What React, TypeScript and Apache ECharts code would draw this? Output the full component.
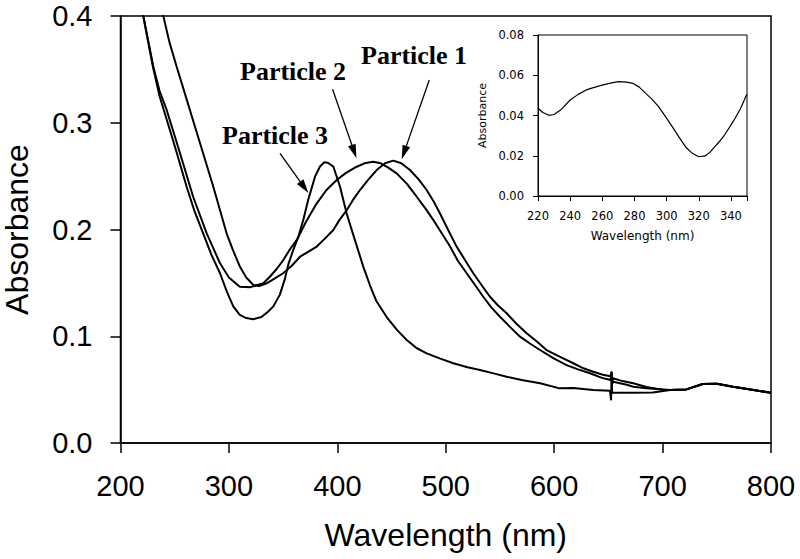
import React, { useEffect, useRef } from 'react';
import * as echarts from 'echarts';

// Main spectra: [wavelength (nm), absorbance]
const particle1: [number, number][] = [
  [232, 0.44], [239.5, 0.4], [245, 0.376], [251.8, 0.3525], [258, 0.332], [264, 0.312],
  [273.3, 0.281], [285.6, 0.24], [298, 0.196], [304, 0.18], [310.2, 0.165], [316, 0.155],
  [322.5, 0.148], [328, 0.147], [334.8, 0.1496], [342, 0.154], [350, 0.159], [358, 0.166],
  [365.6, 0.1745], [373, 0.179], [381, 0.184], [388, 0.191], [396.3, 0.1995], [402, 0.209],
  [408.6, 0.218], [414, 0.227], [420.9, 0.237], [428, 0.246], [436.3, 0.2557], [444, 0.262],
  [451.6, 0.2645], [459, 0.262], [467, 0.2557], [475, 0.247], [482.4, 0.237], [489, 0.226],
  [494.7, 0.215], [502, 0.2], [510, 0.184], [518, 0.171], [525.4, 0.159], [533, 0.148],
  [540.8, 0.137], [548, 0.129], [556.2, 0.1215], [565, 0.112], [574.6, 0.1028], [584, 0.095],
  [593, 0.0871], [605, 0.081], [617.6, 0.0747], [627, 0.07], [636, 0.0668], [645, 0.064],
  [652, 0.0625], [653, 0.067], [653.3, 0.057], [654.5, 0.0606], [663, 0.058], [673, 0.0559],
  [685, 0.0525], [700, 0.05], [707, 0.0496], [722, 0.0502], [737, 0.0553], [750, 0.0556],
  [765, 0.0527], [784, 0.0496], [800, 0.047],
];

const particle2: [number, number][] = [
  [214, 0.44], [221, 0.4], [230.3, 0.3525], [236, 0.33], [242.6, 0.312], [254.9, 0.2714],
  [267, 0.2307], [279.5, 0.1964], [291.8, 0.1683], [300, 0.155], [310, 0.1464], [320, 0.146],
  [331.7, 0.1496], [338, 0.156], [344, 0.163], [350.2, 0.1714], [356, 0.181], [362.5, 0.19],
  [371, 0.207], [381, 0.2245], [390, 0.237], [399.4, 0.2464], [408, 0.253], [417.9, 0.2588],
  [425, 0.262], [433, 0.2635], [440, 0.262], [447, 0.258], [454.7, 0.2526], [464, 0.243],
  [473.2, 0.2307], [481, 0.22], [488.5, 0.209], [496, 0.197], [504, 0.184], [511, 0.171],
  [519.3, 0.159], [527, 0.148], [534.6, 0.137], [542, 0.127], [550, 0.1183], [559, 0.109],
  [568.5, 0.0996], [578, 0.093], [587, 0.0871], [600, 0.079], [611.5, 0.073], [622, 0.069],
  [633, 0.0653], [644, 0.061], [652, 0.059], [653, 0.066], [653.3, 0.055], [654.5, 0.0574],
  [667, 0.0545], [673, 0.0527], [685, 0.0512], [707, 0.0496], [722, 0.0502], [737, 0.0553],
  [750, 0.0556], [765, 0.0527], [784, 0.0496], [800, 0.047],
];

const particle3: [number, number][] = [
  [214, 0.44], [221, 0.4], [230, 0.352], [236, 0.325], [242.6, 0.303], [251, 0.275],
  [261, 0.24], [268, 0.218], [276.4, 0.196], [284, 0.176], [291.8, 0.159], [298, 0.142],
  [304, 0.128], [310, 0.12], [316, 0.117], [322.5, 0.116], [330, 0.118], [336, 0.123],
  [341, 0.128], [347, 0.139], [351.7, 0.154], [355, 0.168], [359.4, 0.181], [364, 0.193],
  [368.6, 0.209], [373.2, 0.228], [379.4, 0.2495], [384, 0.259], [388, 0.263], [391, 0.2626],
  [396.3, 0.259], [402.5, 0.24], [408.6, 0.215], [414.7, 0.195], [424, 0.165], [430, 0.148],
  [436, 0.133], [445.5, 0.118], [455, 0.106], [464, 0.0965], [473, 0.089], [482.4, 0.084],
  [495, 0.079], [507, 0.0747], [520, 0.071], [531.6, 0.0684], [545, 0.065], [556.2, 0.0621],
  [570, 0.059], [587, 0.0559], [605, 0.0512], [617.6, 0.0515], [636, 0.0496], [651.5, 0.049],
  [652.5, 0.04], [653, 0.064], [653.5, 0.047], [670, 0.0471], [691, 0.0472], [707, 0.0496],
  [722, 0.0502], [737, 0.0553], [750, 0.0556], [765, 0.0527], [784, 0.0496], [800, 0.047],
];

// Inset spectrum
const insetSpectrum: [number, number][] = [
  [220, 0.0436], [223, 0.0415], [226.8, 0.0401], [230, 0.0405], [234, 0.0427], [240, 0.0477],
  [245, 0.0505], [250, 0.0527], [255, 0.054], [260.5, 0.0552], [265, 0.0561], [270, 0.0568],
  [275, 0.0566], [279, 0.056], [283, 0.0541], [287, 0.051], [291, 0.048], [295, 0.0444],
  [299, 0.0398], [303.5, 0.0345], [307.5, 0.0295], [311.7, 0.0245], [316, 0.0212],
  [320, 0.0195], [324, 0.0199], [327, 0.0218], [330, 0.0245], [333, 0.0272], [336, 0.0303],
  [339, 0.034], [342, 0.0378], [346, 0.0435], [349, 0.049], [350, 0.0505],
];

// Annotation labels and arrows in data coordinates
const labelNames = ['Particle 1', 'Particle 2', 'Particle 3'];
const labelPixelPos: [number, number][] = [[361, 42], [240, 58], [222, 122]];
const arrowStarts: [number, number][] = [[484.8, 0.34], [395.6, 0.3313], [347.1, 0.2714]];
const arrowEnds: [number, number][] = [[461.5, 0.272], [415.5, 0.273], [369.5, 0.2395]];

const mainXTicks = { min: 200, max: 800, interval: 100 };
const mainYTicks = { min: 0, max: 0.4, interval: 0.1 };
const insetXTicks = { min: 220, max: 350, interval: 20 };
const insetYTicks = { min: 0, max: 0.08, interval: 0.02 };

const App: React.FC = () => {
  const ref = useRef<HTMLDivElement>(null);

  useEffect(() => {
    if (!ref.current) return;
    const chart = echarts.init(ref.current, undefined, { renderer: 'svg' });
    const black = '#000';
    const mainFont = 'Liberation Sans, Arial, sans-serif';
    const insetFont = 'DejaVu Sans, Verdana, sans-serif';

    const lineSeries = (name: string, data: [number, number][], idx: number, extra: any = {}) => ({
      name,
      type: 'line',
      xAxisIndex: idx,
      yAxisIndex: idx,
      data,
      showSymbol: false,
      symbol: 'none',
      clip: true,
      lineStyle: { color: black, width: idx === 0 ? 2 : 1.2 },
      silent: true,
      ...extra,
    });

    const option: any = {
      animation: false,
      backgroundColor: '#fff',
      textStyle: { fontFamily: mainFont },
      grid: [
        { left: 120.5, right: 29, top: 16, bottom: 116, show: true, borderColor: black, borderWidth: 1.5, backgroundColor: 'transparent', containLabel: false, outerBoundsMode: 'none' },
        { left: 538, right: 53, top: 35, bottom: 363, show: true, borderColor: black, borderWidth: 1, backgroundColor: 'transparent', containLabel: false, outerBoundsMode: 'none' },
      ],
      xAxis: [
        {
          type: 'value', gridIndex: 0, ...mainXTicks,
          axisLine: { show: true, onZero: false, lineStyle: { color: black, width: 1.5 } },
          axisTick: { show: true, length: 10, lineStyle: { color: black, width: 1.5 } },
          axisLabel: { color: black, fontSize: 29, margin: 28, fontFamily: mainFont },
          splitLine: { show: false },
          name: 'Wavelength (nm)', nameLocation: 'middle', nameGap: 76,
          nameTextStyle: { color: black, fontSize: 32, fontFamily: mainFont },
        },
        {
          type: 'value', gridIndex: 1, ...insetXTicks,
          axisLine: { show: true, onZero: false, lineStyle: { color: black, width: 1 } },
          axisTick: { show: true, length: 5, lineStyle: { color: black, width: 1 } },
          axisLabel: {
            color: black, fontSize: 11.5, margin: 14, fontFamily: insetFont,
            formatter: (v: number) => (v >= 350 ? '' : String(v)),
          },
          splitLine: { show: false },
          name: 'Wavelength (nm)', nameLocation: 'middle', nameGap: 34,
          nameTextStyle: { color: black, fontSize: 12, fontFamily: insetFont },
        },
      ],
      yAxis: [
        {
          type: 'value', gridIndex: 0, ...mainYTicks,
          axisLine: { show: true, onZero: false, lineStyle: { color: black, width: 1.5 } },
          axisTick: { show: true, length: 10, lineStyle: { color: black, width: 1.5 } },
          axisLabel: { color: black, fontSize: 29, margin: 28, fontFamily: mainFont, formatter: (v: number) => v.toFixed(1) },
          splitLine: { show: false },
          name: 'Absorbance', nameLocation: 'middle', nameGap: 88,
          nameTextStyle: { color: black, fontSize: 32, fontFamily: mainFont },
        },
        {
          type: 'value', gridIndex: 1, ...insetYTicks,
          axisLine: { show: true, onZero: false, lineStyle: { color: black, width: 1 } },
          axisTick: { show: true, length: 5, lineStyle: { color: black, width: 1 } },
          axisLabel: { color: black, fontSize: 11.5, margin: 14, fontFamily: insetFont, formatter: (v: number) => v.toFixed(2) },
          splitLine: { show: false },
          name: 'Absorbance', nameLocation: 'middle', nameGap: 50,
          nameTextStyle: { color: black, fontSize: 11, fontFamily: insetFont },
        },
      ],
      series: [
        lineSeries('Particle 1', particle1, 0, {
          markLine: {
            silent: true,
            symbol: ['none', 'triangle'],
            symbolSize: [8, 14],
            label: { show: false },
            lineStyle: { color: black, width: 1.3, type: 'solid' },
            data: arrowStarts.map((s, i) => [
              { coord: s },
              { coord: arrowEnds[i] },
            ]),
          },
        }),
        lineSeries('Particle 2', particle2, 0),
        lineSeries('Particle 3', particle3, 0),
        lineSeries('Inset', insetSpectrum, 1),
      ],
      graphic: labelNames.map((t, i) => ({
        type: 'text',
        x: labelPixelPos[i][0],
        y: labelPixelPos[i][1],
        silent: true,
        style: {
          text: t,
          fill: black,
          font: 'bold 26px "Liberation Serif", "Times New Roman", serif',
          textAlign: 'left',
          textVerticalAlign: 'top',
        },
      })),
    };

    chart.setOption(option);
    return () => chart.dispose();
  }, []);

  return <div ref={ref} style={{ position: 'fixed', left: 0, top: 0, width: 800, height: 559 }} />;
};

export default App;
